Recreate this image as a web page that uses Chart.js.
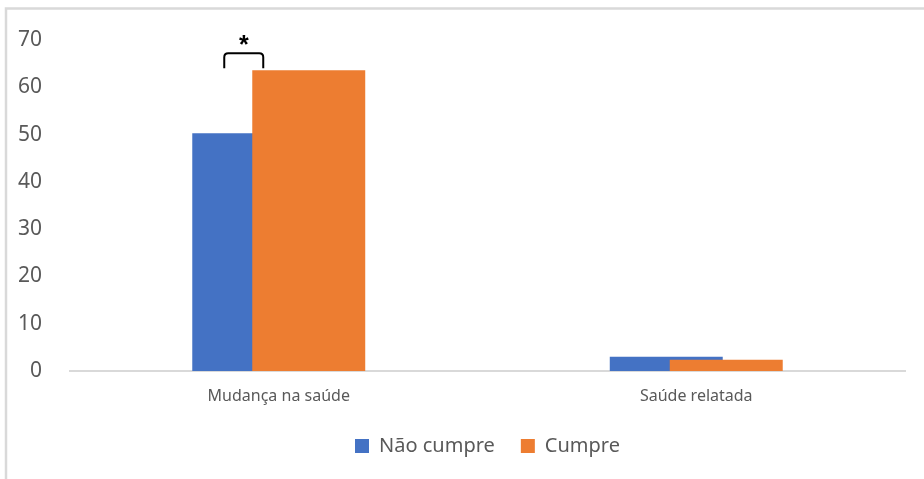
<!DOCTYPE html>
<html>
<head>
<meta charset="utf-8">
<script src="https://cdn.jsdelivr.net/npm/chart.js@4/dist/chart.umd.min.js"></script>
<style>
html,body{margin:0;padding:0;background:#fff;}
#wrap{position:relative;width:924px;height:479px;}
</style>
</head>
<body>
<div id="wrap"><canvas id="c" width="924" height="479"></canvas></div>
<script>
const categories = ["Mudança na saúde", "Saúde relatada"];
const seriesNames = ["Não cumpre", "Cumpre"];
const naoCumpre = [50.3, 3.0];
const cumpre = [63.6, 2.4];
const yTicks = [0, 10, 20, 30, 40, 50, 60, 70];

const frame = {
  id: 'frame',
  beforeDraw(chart) {
    const ctx = chart.ctx;
    ctx.save();
    ctx.fillStyle = '#fff';
    ctx.fillRect(0, 0, chart.width, chart.height);
    ctx.strokeStyle = '#d9d9d9';
    ctx.lineWidth = 2.5;
    ctx.strokeRect(6, 8.5, 2000, 2000);
    ctx.restore();
  }
};

// draw datasets in index order so the later series (Cumpre) overlaps the earlier one
const overlapOrder = {
  id: 'overlapOrder',
  beforeDatasetsDraw(chart) {
    const n = chart.data.datasets.length;
    for (let i = 0; i < n; i++) {
      const meta = chart.getDatasetMeta(i);
      if (meta.visible !== false) meta.controller.draw();
    }
    drawBracket(chart);
    return false;
  }
};

function drawBracket(chart) {
  const b = chart.getDatasetMeta(0).data[0];
  const o = chart.getDatasetMeta(1).data[0];
  const ctx = chart.ctx;
  const x1 = b.x - 24.5, x2 = o.x - 45.5;
  const yTop = o.y - 17, yBot = o.y - 2, r = 4;
  ctx.save();
  ctx.strokeStyle = '#000';
  ctx.lineWidth = 2;
  ctx.beginPath();
  ctx.moveTo(x1, yBot);
  ctx.lineTo(x1, yTop + r);
  ctx.quadraticCurveTo(x1, yTop, x1 + r, yTop);
  ctx.lineTo(x2 - r, yTop);
  ctx.quadraticCurveTo(x2, yTop, x2, yTop + r);
  ctx.lineTo(x2, yBot);
  ctx.stroke();
  ctx.fillStyle = '#000';
  ctx.font = 'bold 25px "Liberation Sans", Arial, sans-serif';
  ctx.textAlign = 'center';
  ctx.textBaseline = 'middle';
  ctx.fillText('*', (x1 + x2) / 2, yTop - 7);
  ctx.restore();
}

const FONT = '"Noto Sans", "Open Sans", sans-serif';

new Chart(document.getElementById('c'), {
  type: 'bar',
  data: {
    labels: categories,
    datasets: [
      { label: seriesNames[0], data: naoCumpre, backgroundColor: '#4472C4', categoryPercentage: 0.2874, barPercentage: 1.883 },
      { label: seriesNames[1], data: cumpre, backgroundColor: '#ED7D31', categoryPercentage: 0.2874, barPercentage: 1.883 }
    ]
  },
  options: {
    responsive: false,
    animation: false,
    layout: { padding: { left: 0, right: 19, top: 40, bottom: 13 } },
    plugins: {
      tooltip: { enabled: false },
      legend: {
        position: 'bottom',
        fullSize: false,
        labels: {
          boxWidth: 14, boxHeight: 14, padding: 26,
          color: '#595959',
          font: { family: FONT, size: 20 }
        }
      }
    },
    scales: {
      x: {
        grid: { display: false },
        border: { display: true, color: '#d9d9d9', width: 2 },
        ticks: { color: '#595959', padding: 8, font: { family: FONT, size: 16 } },
        afterFit(s) { s.height = 39; }
      },
      y: {
        min: 0, max: 70,
        afterBuildTicks(s) { s.ticks = yTicks.map(v => ({ value: v })); },
        grid: { display: false },
        border: { display: false },
        ticks: { color: '#595959', padding: 20, font: { family: FONT, size: 21 } },
        afterFit(s) { s.width = 70; }
      }
    }
  },
  plugins: [frame, overlapOrder]
});
</script>
</body>
</html>
